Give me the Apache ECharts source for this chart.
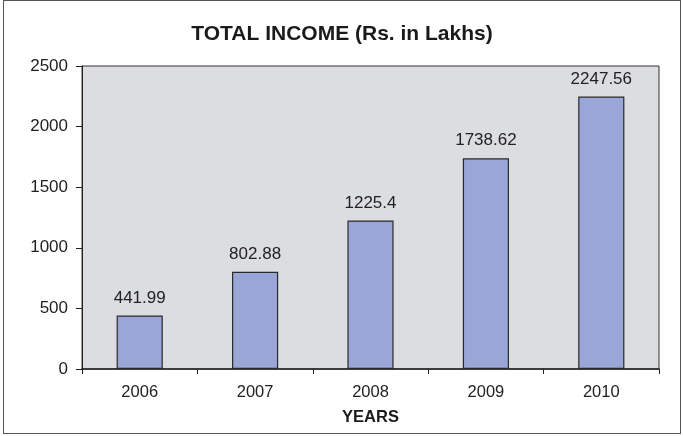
<!DOCTYPE html>
<html>
<head>
<meta charset="utf-8">
<script src="https://cdn.jsdelivr.net/npm/echarts@6/dist/echarts.min.js"></script>
<style>
  html, body { margin: 0; padding: 0; background: #ffffff; }
  #chart { position: absolute; left: 3px; top: 0; width: 678px; height: 434px; border: 1px solid #555; box-sizing: border-box; }
</style>
</head>
<body>
<div id="chart"></div>
<script>
// Total income per year, Rs. in lakhs
const years = ['2006', '2007', '2008', '2009', '2010'];
const income = [441.99, 802.88, 1225.4, 1738.62, 2247.56];
const yTicks = { min: 0, max: 2500, interval: 500 };

const chart = echarts.init(document.getElementById('chart'), null, { renderer: 'canvas' });
const font = 'Liberation Sans, Arial, sans-serif';

chart.setOption({
  animation: false,
  title: {
    text: 'TOTAL INCOME (Rs. in Lakhs)',
    left: 'center',
    top: 18,
    textStyle: { fontFamily: font, fontSize: 21, fontWeight: 'bold', color: '#1a1a1a' }
  },
  grid: {
    left: 78, right: 21, top: 65, bottom: 64,
    show: true,
    backgroundColor: '#dcdde0',
    borderColor: '#333',
    borderWidth: 1
  },
  xAxis: {
    type: 'category',
    data: years,
    name: 'YEARS',
    nameLocation: 'middle',
    nameGap: 40,
    nameTextStyle: { fontFamily: font, fontSize: 16.5, fontWeight: 'bold', color: '#1a1a1a' },
    axisLine: { lineStyle: { color: '#222', width: 1.5 } },
    axisTick: { show: true, length: 5, lineStyle: { color: '#222' } },
    axisLabel: { fontFamily: font, fontSize: 16.5, color: '#222', margin: 15 }
  },
  yAxis: {
    type: 'value',
    min: yTicks.min,
    max: yTicks.max,
    interval: yTicks.interval,
    splitLine: { show: false },
    axisLine: { show: true, lineStyle: { color: '#222' } },
    axisTick: { show: true, length: 6, lineStyle: { color: '#222' } },
    axisLabel: {
      fontFamily: font, fontSize: 17, color: '#222', margin: 14,
      formatter: v => String(v)
    }
  },
  series: [{
    type: 'bar',
    data: income,
    barWidth: '40%',
    itemStyle: { color: '#99a6d7', borderColor: '#2a2a2a', borderWidth: 1.2 },
    label: {
      show: true,
      position: 'top',
      distance: 9,
      fontFamily: font,
      fontSize: 17,
      color: '#222'
    }
  }]
});
</script>
</body>
</html>
